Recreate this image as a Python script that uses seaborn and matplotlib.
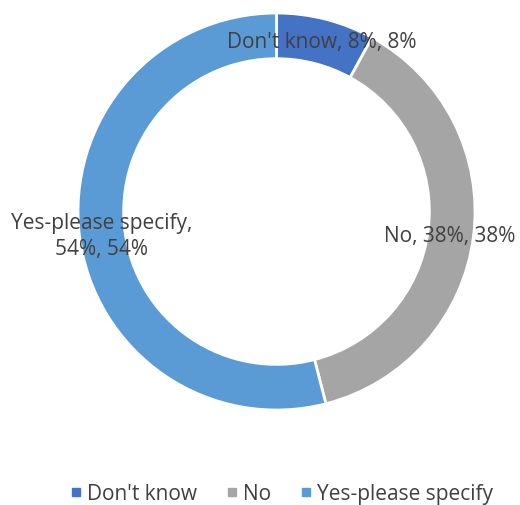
import matplotlib
matplotlib.use("Agg")
import matplotlib.pyplot as plt
import seaborn as sns
from matplotlib.lines import Line2D

# data
categories = ["Don't know", "No", "Yes-please specify"]
shares = [8, 38, 54]
colors = ["#4472C4", "#A5A5A5", "#5B9BD5"]

sns.set_theme(style="white")
plt.rcParams['font.family'] = ['Open Sans', 'DejaVu Sans']
text_color = "#404040"

fig = plt.figure(figsize=(5.2, 5.06), dpi=100)
ax = fig.add_axes([0.15, 0.1877, 0.7635, 0.7846])

wedges, _ = ax.pie(shares, colors=colors, startangle=90, counterclock=False,
                   radius=1.0,
                   wedgeprops=dict(width=0.23, edgecolor="white", linewidth=2))
ax.set_xlim(-1, 1)
ax.set_ylim(-1, 1)
ax.set_aspect("equal")
ax.axis("off")

lbl = [f"{c}, {v}%, {v}%" for c, v in zip(categories, shares)]
fs = 15
# label positions in data coords (radius = 1)
ax.text(0.23, 0.855, lbl[0], ha="center", va="center", fontsize=fs, color=text_color)
ax.text(0.54, -0.12, lbl[1], ha="left", va="center", fontsize=fs, color=text_color)
ax.text(-0.88, -0.12, "Yes-please specify,\n54%, 54%", ha="center", va="center",
        fontsize=fs, color=text_color, linespacing=1.35)

handles = [Line2D([0], [0], marker="s", linestyle="", markersize=5.5,
                  markerfacecolor=c, markeredgecolor=c) for c in colors]
fig.legend(handles, categories, loc="center", bbox_to_anchor=(0.54, 0.022),
           ncol=3, frameon=False, fontsize=fs, labelcolor=text_color,
           handletextpad=0.2, columnspacing=1.3, handlelength=0.7)

fig.savefig("out.png", dpi=100)
